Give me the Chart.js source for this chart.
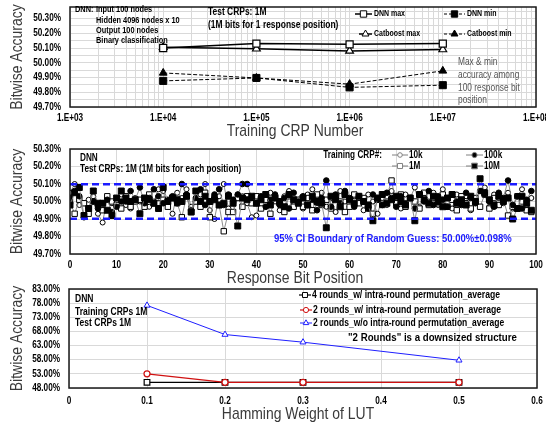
<!DOCTYPE html>
<html><head><meta charset="utf-8">
<script src="https://cdn.jsdelivr.net/npm/chart.js@4"></script>
<style>
html,body{margin:0;padding:0;background:#fff;width:546px;height:423px;overflow:hidden;position:relative;}
.p{position:absolute;left:0;width:546px;}
canvas{display:block}
</style></head><body>
<div class="p" style="top:0px;height:145px"><canvas id="c1" width="546" height="145"></canvas></div>
<div class="p" style="top:140px;height:150px"><canvas id="c2" width="546" height="150"></canvas></div>
<div class="p" style="top:280px;height:143px"><canvas id="c3" width="546" height="143"></canvas></div>
<script>
// ---------------- Panel 1 data ----------------
const crpNumbers = [1e4, 1e5, 1e6, 1e7];
const dnnMax      = [50.100, 50.130, 50.125, 50.130];
const catboostMax = [50.105, 50.095, 50.080, 50.090];
const dnnMin      = [49.877, 49.897, 49.833, 49.848];
const catboostMin = [49.931, 49.897, 49.855, 49.945];
const crpTickValues = [1e3, 1e4, 1e5, 1e6, 1e7, 1e8];
const crpTickLabels = ['1.E+03', '1.E+04', '1.E+05', '1.E+06', '1.E+07', '1.E+08'];
const acc1TickValues = [49.7, 49.8, 49.9, 50.0, 50.1, 50.2, 50.3];

// ---------------- Panel 2 data ----------------
const bitPositions = [...Array(100).keys()];
const acc10k = [
 50.05, 50.10, 49.98, 49.99, 50.01, 50.03, 49.93, 49.88, 50.02, 49.99,
 50.00, 50.04, 49.98, 49.96, 50.02, 50.00, 50.01, 49.97, 50.00, 50.07,
 50.06, 49.98, 49.93, 50.05, 50.02, 50.07, 49.97, 50.00, 50.04, 50.10,
 49.95, 49.90, 50.03, 50.10, 49.96, 50.01, 50.04, 50.03, 49.99, 49.91,
 49.92, 50.02, 49.97, 50.05, 50.00, 49.95, 50.03, 50.06, 49.98, 50.01,
 49.96, 50.04, 50.07, 49.99, 50.05, 49.97, 50.02, 49.94, 50.06, 50.00,
 49.97, 50.03, 50.01, 49.95, 50.04, 50.00, 49.93, 50.02, 49.98, 50.06,
 50.01, 49.96, 50.04, 50.02, 50.08, 49.97, 50.03, 50.00, 50.05, 49.98,
 50.07, 50.02, 49.96, 50.04, 49.99, 50.03, 49.95, 50.01, 50.06, 50.08,
 49.97, 50.04, 50.02, 49.99, 50.05, 49.96, 50.03, 50.07, 49.98, 50.02];
const acc100k = [
 50.02, 50.06, 50.03, 49.91, 49.96, 50.00, 49.96, 49.99, 50.01, 49.94,
 49.97, 50.00, 50.00, 50.06, 50.01, 50.08, 49.99, 50.02, 50.07, 50.03,
 49.99, 50.01, 50.03, 49.99, 50.10, 50.04, 49.95, 50.02, 50.07, 49.98,
 50.00, 50.04, 50.07, 49.98, 50.04, 50.01, 50.04, 50.10, 50.10, 50.02,
 49.99, 50.03, 49.97, 50.01, 50.04, 49.98, 50.02, 49.96, 50.05, 50.00,
 50.03, 49.98, 50.01, 49.95, 50.02, 50.12, 49.97, 50.04, 49.99, 50.06,
 50.02, 49.97, 50.03, 50.00, 49.96, 50.04, 50.01, 49.98, 50.05, 50.02,
 49.97, 50.03, 49.99, 50.02, 49.96, 50.04, 50.00, 50.06, 49.98, 50.03,
 50.01, 49.97, 50.04, 50.00, 49.98, 50.05, 50.02, 49.99, 50.06, 50.04,
 50.00, 49.97, 50.05, 50.02, 50.12, 49.98, 50.03, 49.96, 50.01, 50.06];
const acc1M = [
 50.00, 49.93, 50.01, 49.99, 49.93, 50.00, 49.98, 49.95, 50.03, 50.00,
 49.98, 49.96, 50.03, 49.97, 50.00, 50.01, 49.97, 50.04, 49.99, 50.02,
 50.01, 49.97, 50.02, 49.99, 49.91, 50.03, 49.94, 50.00, 49.97, 50.05,
 49.91, 50.02, 49.98, 49.83, 49.94, 49.94, 50.02, 49.97, 50.03, 49.99,
 50.03, 49.96, 50.01, 49.93, 50.02, 49.99, 49.94, 50.03, 49.97, 50.01,
 49.97, 50.02, 49.95, 50.04, 49.98, 50.01, 49.96, 50.03, 50.00, 49.94,
 49.97, 50.04, 49.99, 50.02, 49.96, 49.93, 50.01, 49.98, 50.03, 50.12,
 49.99, 50.04, 49.97, 50.02, 50.00, 49.96, 50.05, 49.98, 50.02, 49.99,
 50.04, 49.97, 50.01, 49.95, 50.03, 49.99, 49.96, 50.02, 49.97, 50.04,
 49.96, 50.02, 49.98, 50.01, 49.92, 49.97, 50.03, 50.00, 49.95, 49.94];
const acc10M = [
 49.98, 50.05, 50.08, 49.92, 49.96, 50.06, 49.99, 49.99, 49.95, 49.92,
 50.02, 50.06, 50.02, 50.00, 50.01, 49.93, 50.02, 50.01, 49.99, 49.96,
 50.08, 50.00, 50.02, 50.01, 50.00, 50.03, 49.94, 50.06, 50.00, 50.03,
 50.00, 50.01, 49.98, 49.99, 50.03, 49.99, 49.86, 50.02, 50.01, 50.03,
 49.99, 50.01, 50.04, 49.98, 50.02, 50.00, 49.97, 50.04, 50.01, 49.99,
 50.02, 49.98, 50.03, 50.00, 49.99, 49.85, 50.03, 50.01, 49.97, 50.04,
 50.01, 49.99, 50.03, 50.00, 49.98, 49.89, 50.02, 50.04, 49.99, 50.01,
 50.03, 50.00, 49.98, 50.02, 49.89, 50.04, 50.01, 49.99, 50.03, 50.00,
 49.97, 50.02, 50.04, 49.99, 50.01, 49.98, 50.03, 50.00, 50.13, 50.05,
 50.01, 49.98, 50.03, 50.00, 50.02, 49.90, 49.96, 50.03, 49.99, 49.95];
const ciCenter = 50.00;
const ciHalfWidth = 0.098;
const bitTickValues = [0, 10, 20, 30, 40, 50, 60, 70, 80, 90, 100];
const acc2TickValues = [49.7, 49.8, 49.9, 50.0, 50.1, 50.2, 50.3];

// ---------------- Panel 3 data ----------------
const hammingWeights = [0.1, 0.2, 0.3, 0.5];
const rounds4With    = [50.0, 50.0, 50.0, 50.0];
const rounds2With    = [53.0, 50.0, 50.0, 50.0];
const rounds2Without = [77.2, 66.9, 64.2, 57.8];
const hwTickValues = [0, 0.1, 0.2, 0.3, 0.4, 0.5, 0.6];
const hwTickLabels = ['0', '0.1', '0.2', '0.3', '0.4', '0.5', '0.6'];
const acc3TickValues = [48, 53, 58, 63, 68, 73, 78, 83];

// ---------------- narrow text rendering ----------------
// No narrow face is installed: condense every canvas text run horizontally (Arial Narrow ~ 82% of Arial).
const CONDENSE = 0.82;
const _fillText = CanvasRenderingContext2D.prototype.fillText;
CanvasRenderingContext2D.prototype.fillText = function (t, x, y, mw) {
  const w = this.measureText(t).width * CONDENSE;
  return _fillText.call(this, t, x, y, mw === undefined ? w : Math.min(mw, w));
};

// ---------------- helpers ----------------
const NF = "'Liberation Sans', Arial, sans-serif";
Chart.defaults.font.family = NF;
Chart.defaults.color = '#000';
const pct = v => v.toFixed(2) + '%';
const xy = (xs, ys) => xs.map((x, i) => ({x: x, y: ys[i]}));
const near = (a, b) => Math.abs(a - b) < 1e-6;

function yAxis(min, max, gridTicks, labelTicks, width) {
  return {
    type: 'linear', position: 'left', min: min, max: max,
    afterBuildTicks: s => { s.ticks = gridTicks.map(v => ({value: v})); },
    afterFit: s => { s.width = width; s.paddingTop = 0; s.paddingBottom = 0; },
    ticks: { autoSkip: false, padding: 9, color: '#000', font: {size: 10, weight: 'bold'},
      callback: v => labelTicks.some(t => near(t, v)) ? pct(v) : '' },
    grid: { color: '#d9d9d9', lineWidth: 1, drawTicks: false },
    border: { display: false },
    title: { display: true, text: 'Bitwise Accuracy', color: '#3a3a3a',
      font: {size: 17, weight: 'normal', lineHeight: 1}, padding: {top: 8.5, bottom: 0} }
  };
}
function xAxis(type, min, max, gridTicks, labelFn, height, pad) {
  return {
    type: type, position: 'bottom', min: min, max: max,
    afterBuildTicks: s => { s.ticks = gridTicks.map(v => ({value: v})); },
    afterFit: s => { s.height = height; s.paddingLeft = 0; s.paddingRight = 0; },
    ticks: { autoSkip: false, maxRotation: 0, minRotation: 0, padding: pad, color: '#000',
      font: {size: 10, weight: 'bold'}, callback: labelFn },
    grid: { color: '#d9d9d9', lineWidth: 1, drawTicks: false },
    border: { display: false },
    title: { display: false }
  };
}
function marker(ctx, style, x, y, r, fill, stroke, lw) {
  ctx.save();
  ctx.beginPath();
  if (style === 'rect') {
    const s = r * Math.SQRT1_2;
    ctx.rect(x - s, y - s, 2 * s, 2 * s);
  } else if (style === 'triangle') {
    let a = 0;
    ctx.moveTo(x + Math.sin(a) * r, y - Math.cos(a) * r);
    a += 2 * Math.PI / 3; ctx.lineTo(x + Math.sin(a) * r, y - Math.cos(a) * r);
    a += 2 * Math.PI / 3; ctx.lineTo(x + Math.sin(a) * r, y - Math.cos(a) * r);
    ctx.closePath();
  } else {
    ctx.arc(x, y, r, 0, Math.PI * 2);
  }
  ctx.fillStyle = fill; ctx.fill();
  ctx.lineWidth = lw; ctx.strokeStyle = stroke; ctx.stroke();
  ctx.restore();
}
function text(ctx, s, x, y, font, color, align) {
  ctx.save();
  ctx.font = font; ctx.fillStyle = color || '#000';
  ctx.textAlign = align || 'left'; ctx.textBaseline = 'middle';
  ctx.fillText(s, x, y);
  ctx.restore();
}
function legendItem(ctx, x1, x2, y, color, lw, dash, style, r, fill, label, tx, font) {
  ctx.save();
  ctx.strokeStyle = color; ctx.lineWidth = lw; ctx.setLineDash(dash);
  ctx.beginPath(); ctx.moveTo(x1, y); ctx.lineTo(x2, y); ctx.stroke();
  ctx.setLineDash([]);
  marker(ctx, style, (x1 + x2) / 2, y, r, fill, color, 1);
  text(ctx, label, tx, y, font, '#000');
  ctx.restore();
}
function decoPlugin(draw) {
  return { id: 'deco', afterDraw(chart) {
    const ctx = chart.ctx, a = chart.chartArea;
    ctx.save();
    ctx.strokeStyle = '#1a1a1a'; ctx.lineWidth = 1.5;
    ctx.strokeRect(a.left, a.top, a.right - a.left, a.bottom - a.top);
    ctx.restore();
    draw(ctx, chart);
  } };
}
const B = s => 'bold ' + s + 'px ' + NF;
const TITLE = '17px ' + NF;

// ---------------- Panel 1 ----------------
const logGrid = [];
for (let e = 3; e <= 7; e++) for (let k = 1; k <= 9; k++) logGrid.push(k * Math.pow(10, e));
logGrid.push(1e8);
const acc1Grid = [];
for (let i = 0; i <= 13; i++) acc1Grid.push(Math.round((49.7 + i * 0.05) * 1000) / 1000);

new Chart(document.getElementById('c1'), {
  type: 'line',
  data: { datasets: [
    { label: 'DNN max', data: xy(crpNumbers, dnnMax), borderColor: '#000', borderWidth: 1.5,
      pointStyle: 'rect', pointRadius: 5, pointBackgroundColor: '#fff', pointBorderColor: '#000', pointBorderWidth: 1.2 },
    { label: 'Catboost max', data: xy(crpNumbers, catboostMax), borderColor: '#000', borderWidth: 1.5,
      pointStyle: 'triangle', pointRadius: 4.5, pointBackgroundColor: '#fff', pointBorderColor: '#000', pointBorderWidth: 1.2 },
    { label: 'DNN min', data: xy(crpNumbers, dnnMin), borderColor: '#000', borderWidth: 1, borderDash: [4, 2],
      pointStyle: 'rect', pointRadius: 5, pointBackgroundColor: '#000', pointBorderColor: '#000', pointBorderWidth: 1 },
    { label: 'Catboost min', data: xy(crpNumbers, catboostMin), borderColor: '#000', borderWidth: 1, borderDash: [4, 2],
      pointStyle: 'triangle', pointRadius: 4.5, pointBackgroundColor: '#000', pointBorderColor: '#000', pointBorderWidth: 1 }
  ] },
  options: {
    responsive: false, animation: false, events: [],
    layout: { padding: {left: 0, right: 10, top: 7, bottom: 0} },
    plugins: { legend: {display: false}, tooltip: {enabled: false} },
    scales: {
      x: xAxis('logarithmic', 1e3, 1e8, logGrid, v => {
        const i = crpTickValues.findIndex(t => near(t, v)); return i >= 0 ? crpTickLabels[i] : ''; }, 38, 5),
      y: yAxis(49.7, 50.378, acc1Grid, acc1TickValues, 70)
    }
  },
  plugins: [decoPlugin((ctx) => {
    text(ctx, 'DNN:', 75, 10, B(9));
    text(ctx, 'Input 100 nodes', 96, 10, B(9));
    text(ctx, 'Hidden 4096 nodes x 10', 96, 20.5, B(9));
    text(ctx, 'Output 100 nodes', 96, 31, B(9));
    text(ctx, 'Binary classification', 96, 41, B(9));
    text(ctx, 'Test CRPs: 1M', 208, 12.5, B(10.3));
    text(ctx, '(1M bits for 1 response position)', 208, 25, B(10.3));
    legendItem(ctx, 355, 372, 14, '#000', 1.5, [], 'rect', 4.5, '#fff', 'DNN max', 374, B(8.5));
    legendItem(ctx, 444, 465, 14, '#000', 1, [3, 2], 'rect', 4.5, '#000', 'DNN min', 467, B(8.5));
    legendItem(ctx, 359, 372, 34, '#000', 1.5, [], 'triangle', 4, '#fff', 'Catboost max', 374, B(8.5));
    legendItem(ctx, 444, 465, 34, '#000', 1, [3, 2], 'triangle', 4, '#000', 'Catboost min', 467, B(8.5));
    const g = '10.2px ' + NF;
    text(ctx, 'Max & min', 458, 62, g, '#555');
    text(ctx, 'accuracy among', 458, 75, g, '#555');
    text(ctx, '100 response bit', 458, 88, g, '#555');
    text(ctx, 'position', 458, 100, g, '#555');
    text(ctx, 'Training CRP Number', 295, 131, TITLE, '#3a3a3a', 'center');
  })]
});

// ---------------- Panel 2 ----------------
const seriesLine = '#808080';
new Chart(document.getElementById('c2'), {
  type: 'line',
  data: { datasets: [
    { label: 'CI upper', data: xy([0, 100], [ciCenter + ciHalfWidth, ciCenter + ciHalfWidth]), borderColor: '#1a1aff',
      borderWidth: 2.5, borderDash: [7, 4], pointRadius: 0, order: 0 },
    { label: 'CI lower', data: xy([0, 100], [ciCenter - ciHalfWidth, ciCenter - ciHalfWidth]), borderColor: '#1a1aff',
      borderWidth: 2.5, borderDash: [7, 4], pointRadius: 0, order: 0 },
    { label: '10M', data: xy(bitPositions, acc10M), borderColor: seriesLine, borderWidth: 0.9, order: 1,
      pointStyle: 'rect', pointRadius: 4.2, pointBackgroundColor: '#000', pointBorderColor: '#000', pointBorderWidth: 1 },
    { label: '100k', data: xy(bitPositions, acc100k), borderColor: seriesLine, borderWidth: 0.9, order: 2,
      pointStyle: 'circle', pointRadius: 2.8, pointBackgroundColor: '#000', pointBorderColor: '#000', pointBorderWidth: 1 },
    { label: '1M', data: xy(bitPositions, acc1M), borderColor: seriesLine, borderWidth: 0.9, order: 3,
      pointStyle: 'rect', pointRadius: 3.8, pointBackgroundColor: '#fff', pointBorderColor: '#000', pointBorderWidth: 1 },
    { label: '10k', data: xy(bitPositions, acc10k), borderColor: seriesLine, borderWidth: 0.9, order: 4,
      pointStyle: 'circle', pointRadius: 2.5, pointBackgroundColor: '#fff', pointBorderColor: '#000', pointBorderWidth: 1 }
  ] },
  options: {
    responsive: false, animation: false, events: [],
    layout: { padding: {left: 0, right: 10, top: 9, bottom: 0} },
    plugins: { legend: {display: false}, tooltip: {enabled: false} },
    scales: {
      x: xAxis('linear', 0, 100, bitTickValues, v => String(v), 36, 5),
      y: yAxis(49.7, 50.3, acc2TickValues, acc2TickValues, 70)
    }
  },
  plugins: [decoPlugin((ctx) => {
    const o = 140;
    text(ctx, 'DNN', 80, 158 - o, B(10));
    text(ctx, 'Test CRPs: 1M (1M bits for each position)', 80, 169 - o, B(10));
    text(ctx, 'Training CRP#:', 382, 155 - o, B(10), '#000', 'right');
    legendItem(ctx, 392, 408, 155 - o, seriesLine, 1, [], 'circle', 2.3, '#fff', '10k', 409, B(10));
    legendItem(ctx, 466, 483, 155 - o, seriesLine, 1, [], 'circle', 2.6, '#000', '100k', 484, B(10));
    legendItem(ctx, 392, 408, 166 - o, seriesLine, 1, [], 'rect', 3.6, '#fff', '1M', 409, B(10));
    legendItem(ctx, 466, 483, 166 - o, seriesLine, 1, [], 'rect', 4, '#000', '10M', 484, B(10));
    text(ctx, '95% CI Boundary of Random Guess: ' + ciCenter.toFixed(2) + '%\u00b1' + ciHalfWidth.toFixed(3) + '%',
      274, 239 - o, B(11.6), '#1a1aff');
    text(ctx, 'Response Bit Position', 295, 278 - o, TITLE, '#3a3a3a', 'center');
  })]
});

// ---------------- Panel 3 ----------------
const C4 = '#000000', C2w = '#d01010', C2wo = '#1f1fff';
new Chart(document.getElementById('c3'), {
  type: 'line',
  data: { datasets: [
    { label: '4 rounds_w/ intra-round permutation_average', data: xy(hammingWeights, rounds4With), order: 3,
      borderColor: C4, borderWidth: 1.2, pointStyle: 'rect', pointRadius: 4, pointBackgroundColor: '#fff',
      pointBorderColor: C4, pointBorderWidth: 1.2 },
    { label: '2 rounds_w/ intra-round permutation_average', data: xy(hammingWeights, rounds2With), order: 2,
      borderColor: C2w, borderWidth: 1.2, pointStyle: 'circle', pointRadius: 3, pointBackgroundColor: '#fff',
      pointBorderColor: C2w, pointBorderWidth: 1.2 },
    { label: '2 rounds_w/o intra-round permutation_average', data: xy(hammingWeights, rounds2Without), order: 1,
      borderColor: C2wo, borderWidth: 1, pointStyle: 'triangle', pointRadius: 3.5, pointBackgroundColor: '#fff',
      pointBorderColor: C2wo, pointBorderWidth: 1 }
  ] },
  options: {
    responsive: false, animation: false, events: [],
    layout: { padding: {left: 0, right: 9, top: 9, bottom: 0} },
    plugins: { legend: {display: false}, tooltip: {enabled: false} },
    scales: {
      x: xAxis('linear', 0, 0.6, hwTickValues, v => {
        const i = hwTickValues.findIndex(t => near(t, v)); return i >= 0 ? hwTickLabels[i] : ''; }, 35, 7),
      y: yAxis(48, 83, acc3TickValues, acc3TickValues, 69)
    }
  },
  plugins: [decoPlugin((ctx, chart) => {
    const o = 280;
    text(ctx, 'DNN', 75, 299 - o, B(10.4));
    text(ctx, 'Training CRPs 1M', 75, 312 - o, B(10.4));
    text(ctx, 'Test CRPs 1M', 75, 323 - o, B(10.4));
    const ds = chart.data.datasets;
    legendItem(ctx, 299, 311, 295 - o, C4, 1.2, [], 'rect', 3.5, '#fff', ds[0].label, 312, B(10.5));
    legendItem(ctx, 300, 312, 310 - o, C2w, 1.2, [], 'circle', 2.6, '#fff', ds[1].label, 313, B(10.5));
    legendItem(ctx, 300, 312, 323 - o, C2wo, 1, [], 'triangle', 3.2, '#fff', ds[2].label, 313, B(10.4));
    text(ctx, '"2 Rounds" is a downsized structure', 348, 338 - o, B(11.8));
    text(ctx, 'Hamming Weight of LUT', 298, 414 - o, TITLE, '#3a3a3a', 'center');
  })]
});
</script>
</body></html>
